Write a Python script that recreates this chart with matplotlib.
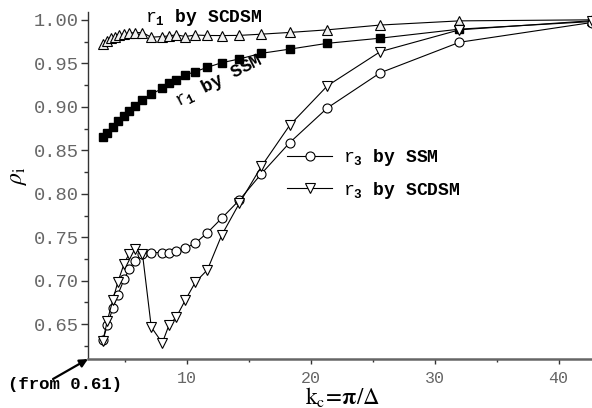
import numpy as np
import matplotlib
matplotlib.use("Agg")
import matplotlib.pyplot as plt
from matplotlib.ticker import MultipleLocator, FormatStrFormatter

plt.rcParams["mathtext.fontset"] = "custom"
plt.rcParams["mathtext.rm"] = "Liberation Mono"
plt.rcParams["mathtext.bf"] = "Liberation Mono:bold"
plt.rcParams["font.family"] = ["Liberation Mono", "DejaVu Sans"]

# k_c values
k_r1_scdsm = [3.20, 3.50, 3.83, 4.17, 4.53, 4.92, 5.33, 5.82, 6.40, 7.11, 8.00, 8.53,
              9.14, 9.85, 10.67, 11.64, 12.80, 14.22, 16.00, 18.29, 21.33, 25.60, 32.00, 42.67]
r1_scdsm = [0.9723, 0.9761, 0.9788, 0.9807, 0.9827, 0.9838, 0.9846, 0.9853, 0.9853, 0.9800,
            0.9808, 0.9815, 0.9828, 0.9808, 0.9825, 0.9820, 0.9819, 0.9821, 0.9835, 0.9855,
            0.9885, 0.9940, 0.9988, 1.0000]

k_grid = [3.20, 3.56, 4.00, 4.41, 4.92, 5.33, 5.82, 6.40, 7.11, 8.00, 8.53, 9.14,
          9.85, 10.67, 11.64, 12.80, 14.22, 16.00, 18.29, 21.33, 25.60, 32.00, 42.67]
r1_ssm = [0.8652, 0.8703, 0.8768, 0.8834, 0.8891, 0.8953, 0.9007, 0.9076, 0.9145, 0.9211,
          0.9269, 0.9307, 0.9365, 0.9405, 0.9454, 0.9507, 0.9550, 0.9615, 0.9663, 0.9730,
          0.9789, 0.9893, 0.9980]
r3_ssm = [0.6313, 0.6490, 0.6682, 0.6840, 0.7017, 0.7133, 0.7232, 0.7306, 0.7324, 0.7324,
          0.7324, 0.7341, 0.7373, 0.7433, 0.7552, 0.7719, 0.7927, 0.8230, 0.8588, 0.8987,
          0.9391, 0.9742, 0.9969]
r3_scdsm = [0.6305, 0.6541, 0.6775, 0.6986, 0.7197, 0.7313, 0.7361, 0.7306, 0.6467, 0.6285,
            0.6486, 0.6584, 0.6775, 0.6983, 0.7125, 0.7525, 0.7890, 0.8314, 0.8788, 0.9241,
            0.9634, 0.9885, 0.9990]

W, H = 592, 408
fig = plt.figure(figsize=(W / 100, H / 100), dpi=100)
ax = fig.add_axes([88 / W, (H - 359) / H, (W - 88) / W, (359 - 12) / H])

lw = 0.8
ax.plot(k_r1_scdsm, r1_scdsm, color="k", lw=lw, marker="^", ms=6.5, mfc="#f0f0f0", mec="k", mew=0.8)
ax.plot(k_grid, r1_ssm, color="k", lw=lw, marker="s", ms=5.8, mfc="k", mec="k")
l_ssm, = ax.plot(k_grid, r3_ssm, color="k", lw=lw, marker="o", ms=6.5, mfc="white", mec="k", mew=0.8,
                 label=r"$\mathrm{r}_\mathbf{3}$ by SSM")
l_scd, = ax.plot(k_grid, r3_scdsm, color="k", lw=lw, marker="v", ms=7, mfc="white", mec="k", mew=0.8,
                 label=r"$\mathrm{r}_\mathbf{3}$ by SCDSM")

ax.set_xlim(2.0, 42.7)
ax.set_ylim(0.61, 1.009)
ax.xaxis.set_major_locator(MultipleLocator(10))
ax.xaxis.set_minor_locator(MultipleLocator(5))
ax.yaxis.set_major_locator(MultipleLocator(0.05))
ax.yaxis.set_minor_locator(MultipleLocator(0.025))
ax.yaxis.set_major_formatter(FormatStrFormatter("%.2f"))

for s in ("top", "right"):
    ax.spines[s].set_visible(False)
ax.spines["left"].set_color("#333333")
ax.spines["left"].set_linewidth(1.0)
ax.spines["bottom"].set_color("#666666")
ax.spines["bottom"].set_linewidth(1.8)
ax.tick_params(axis="y", which="major", length=5, width=1, color="#333333", pad=1.5,
               labelsize=13.5, labelcolor="#666666")
ax.tick_params(axis="y", which="minor", length=3, width=1, color="#333333")
ax.tick_params(axis="x", which="major", length=3.5, width=1, color="#333333", pad=5,
               labelsize=12, labelcolor="#666666")
ax.tick_params(axis="x", which="minor", length=2.5, width=1, color="#333333")

ax.set_xlabel(r"$\mathrm{k}_\mathrm{c}\!=\!\mathbf{\pi}/\Delta$", fontsize=16.5,
              math_fontfamily="stix")
ax.xaxis.set_label_coords((342 - 88) / 504, (359 - 385) / 347)
ax.set_ylabel(r"$\rho_\mathrm{i}$", fontsize=17, math_fontfamily="stix")
ax.yaxis.set_label_coords((29 - 88) / 504, (359 - 176) / 347)

ax.text(6.6, 1.0023, r"$\mathrm{r}_\mathbf{1}$ by SCDSM", fontsize=13, fontweight="bold",
        ha="left", va="center", clip_on=False)
ax.text(12.6, 0.9300, r"$\mathrm{r}_\mathbf{1}$ by SSM", fontsize=13, fontweight="bold",
        ha="center", va="center", rotation=27, rotation_mode="anchor")

ax.legend(handles=[l_ssm, l_scd], loc="upper left", bbox_to_anchor=((287 - 88) / 504, (359 - 147) / 347),
          frameon=False, borderpad=0, borderaxespad=0, handlelength=2.5, handletextpad=0.6,
          labelspacing=0.65, numpoints=1, prop={"family": "Liberation Mono", "weight": "bold", "size": 13})

ax.annotate("", xy=(2.0, 0.61), xytext=(53, H - 379), textcoords="figure pixels",
            arrowprops=dict(arrowstyle="-|>", color="k", lw=1.6, mutation_scale=12, shrinkA=0, shrinkB=0),
            annotation_clip=False)
fig.text(65 / W, (H - 385) / H, "(from 0.61)", fontsize=12.5, fontweight="bold", ha="center", va="center")

fig.savefig("out.png", dpi=100)
